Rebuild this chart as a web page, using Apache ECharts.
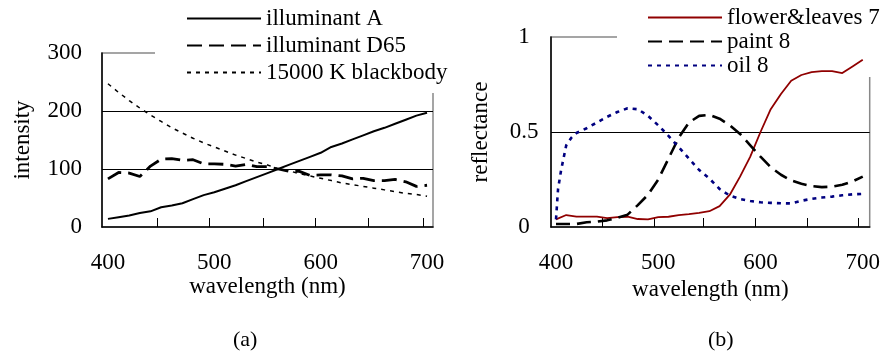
<!DOCTYPE html>
<html>
<head>
<meta charset="utf-8">
<script src="https://cdn.jsdelivr.net/npm/echarts@6/dist/echarts.min.js"></script>
<style>
  html, body { margin: 0; padding: 0; background: #fff; }
  #chart { width: 883px; height: 356px; }
</style>
</head>
<body>
<div id="chart"></div>
<script>
// wavelengths (nm), 10 nm steps
const wl = [400, 410, 420, 430, 440, 450, 460, 470, 480, 490, 500, 510, 520, 530, 540, 550,
  560, 570, 580, 590, 600, 610, 620, 630, 640, 650, 660, 670, 680, 690, 700];

// (a) light sources
const illumA = [14, 17, 20, 24, 27, 34, 37, 41, 48, 55, 60, 66, 72, 79, 86, 93,
  100, 107, 114, 121, 128, 138, 144, 151, 158, 165, 171, 178, 185, 192, 197];
const illumD65 = [83, 94, 93, 87, 105, 117, 118, 115, 116, 109, 109, 108, 105, 108, 104, 104,
  100, 96, 96, 89, 90, 90, 88, 83, 84, 80, 80, 82, 78, 70, 72];
const blackbody = [247, 232, 218, 205, 193, 182, 171, 162, 153, 145, 138, 131, 124, 118, 112, 107,
  100, 97, 92, 88, 84, 80, 76, 73, 70, 67, 64, 61, 58, 56, 53];

// (b) reflectances
const flower = [0.04, 0.063, 0.055, 0.055, 0.055, 0.047, 0.052, 0.054, 0.042, 0.04, 0.052, 0.054,
  0.063, 0.068, 0.074, 0.083, 0.11, 0.17, 0.265, 0.37, 0.5, 0.62, 0.7, 0.77, 0.8, 0.815, 0.82,
  0.82, 0.81, 0.845, 0.88];
const paint = [0.016, 0.016, 0.016, 0.025, 0.028, 0.035, 0.048, 0.065, 0.115, 0.17, 0.25, 0.36,
  0.47, 0.55, 0.585, 0.59, 0.57, 0.535, 0.49, 0.43, 0.37, 0.315, 0.275, 0.245, 0.228, 0.215,
  0.21, 0.212, 0.222, 0.24, 0.265];
const oilWl = [400, 402, 405, 410, 415, 420, 430, 440, 450, 460, 470, 480, 490, 500, 510, 520,
  530, 540, 550, 560, 570, 580, 590, 600, 610, 620, 630, 640, 650, 660, 670, 680, 690, 700];
const oil = [0.04, 0.2, 0.3, 0.43, 0.47, 0.495, 0.52, 0.55, 0.58, 0.605, 0.625, 0.62, 0.585,
  0.535, 0.48, 0.42, 0.36, 0.3, 0.255, 0.2, 0.165, 0.147, 0.137, 0.13, 0.127, 0.125, 0.124,
  0.138, 0.148, 0.155, 0.16, 0.167, 0.172, 0.174];

const xLabels = [400, 500, 600, 700];
const ticksA = [446, 495, 546, 595, 645, 696];
const ticksB = [445, 496, 544, 595, 646, 696];

const pairs = (xs, ys) => xs.map((x, i) => [x, ys[i]]);

const font = '"Liberation Serif", "Times New Roman", serif';
const txt = { color: '#000', fontFamily: font, fontSize: 23 };

const xAxisBase = (min, max, ticks) => ({
  type: 'value',
  min: min,
  max: max,
  name: 'wavelength (nm)',
  nameLocation: 'middle',
  nameGap: 48,
  nameTextStyle: txt,
  axisLine: { show: true, lineStyle: { color: '#000', width: 1.5 } },
  axisTick: { show: true, inside: true, length: 9, customValues: ticks,
    lineStyle: { color: '#000', width: 1 } },
  axisLabel: { customValues: xLabels, margin: 24, ...txt },
  splitLine: { show: false }
});

const chart = echarts.init(document.getElementById('chart'));

const option = {
  animation: false,
  backgroundColor: '#fff',
  grid: [
    { left: 102, top: 53, width: 331, height: 174, show: true,
      borderColor: '#888', borderWidth: 1.5, backgroundColor: 'transparent' },
    { left: 551, top: 37, width: 321, height: 190, show: true,
      borderColor: '#888', borderWidth: 1.5, backgroundColor: 'transparent' }
  ],
  xAxis: [
    { gridIndex: 0, ...xAxisBase(394.4, 705.6, ticksA) },
    { gridIndex: 1, ...xAxisBase(395.1, 706.8, ticksB) }
  ],
  yAxis: [
    {
      gridIndex: 0, type: 'value', min: 0, max: 300, interval: 100,
      name: 'intensity', nameLocation: 'middle', nameGap: 68, nameTextStyle: txt,
      axisLine: { show: true, lineStyle: { color: '#000', width: 1.5 } },
      axisTick: { show: false },
      axisLabel: { margin: 20, ...txt },
      splitLine: { show: true, showMinLine: false, showMaxLine: false,
        lineStyle: { color: '#000', width: 1 } }
    },
    {
      gridIndex: 1, type: 'value', min: 0, max: 1, interval: 0.5,
      name: 'reflectance', nameLocation: 'middle', nameGap: 59, nameTextStyle: txt,
      axisLine: { show: true, lineStyle: { color: '#000', width: 1.5 } },
      axisTick: { show: false },
      axisLabel: { margin: 27, align: 'center', ...txt },
      splitLine: { show: true, showMinLine: false, showMaxLine: false,
        lineStyle: { color: '#000', width: 1 } }
    }
  ],
  legend: [
    {
      data: ['illuminant A', 'illuminant D65', '15000 K blackbody'],
      orient: 'vertical', left: 155, top: 0,
      padding: [7, 5, 9, 31], itemGap: 4,
      itemWidth: 74, itemHeight: 14,
      itemStyle: { opacity: 0 },
      backgroundColor: '#fff', selectedMode: false,
      textStyle: { ...txt, lineHeight: 22 }
    },
    {
      data: ['flower&leaves 7', 'paint 8', 'oil 8'],
      orient: 'vertical', left: 617, top: 0,
      padding: [6, 5, 0, 30], itemGap: 1,
      itemWidth: 74, itemHeight: 14,
      itemStyle: { opacity: 0 },
      backgroundColor: '#fff', selectedMode: false,
      textStyle: { ...txt, lineHeight: 22 }
    }
  ],
  series: [
    { name: 'illuminant A', type: 'line', xAxisIndex: 0, yAxisIndex: 0,
      data: pairs(wl, illumA), symbol: 'none', z: 5,
      lineStyle: { color: '#000', width: 2 }, itemStyle: { color: '#000' } },
    { name: 'illuminant D65', type: 'line', xAxisIndex: 0, yAxisIndex: 0,
      data: pairs(wl, illumD65), symbol: 'none', z: 5,
      lineStyle: { color: '#000', width: 2.8, type: [15, 7] }, itemStyle: { color: '#000' } },
    { name: '15000 K blackbody', type: 'line', xAxisIndex: 0, yAxisIndex: 0,
      data: pairs(wl, blackbody), symbol: 'none', z: 5,
      lineStyle: { color: '#000', width: 1.5, type: [4, 5] }, itemStyle: { color: '#000' } },
    { name: 'flower&leaves 7', type: 'line', xAxisIndex: 1, yAxisIndex: 1,
      data: pairs(wl, flower), symbol: 'none', z: 5,
      lineStyle: { color: '#900000', width: 1.8 }, itemStyle: { color: '#900000' } },
    { name: 'paint 8', type: 'line', xAxisIndex: 1, yAxisIndex: 1,
      data: pairs(wl, paint), symbol: 'none', z: 5,
      lineStyle: { color: '#000', width: 2.6, type: [14, 7] }, itemStyle: { color: '#000' } },
    { name: 'oil 8', type: 'line', xAxisIndex: 1, yAxisIndex: 1,
      data: pairs(oilWl, oil), symbol: 'none', z: 5,
      lineStyle: { color: '#000080', width: 2.6, type: [4, 5] }, itemStyle: { color: '#000080' } }
  ],
  graphic: [
    { type: 'text', left: 233, top: 329, style: { text: '(a)', fill: '#000', font: '22px ' + font } },
    { type: 'text', left: 708, top: 329, style: { text: '(b)', fill: '#000', font: '22px ' + font } }
  ]
};

chart.setOption(option);
</script>
</body>
</html>
